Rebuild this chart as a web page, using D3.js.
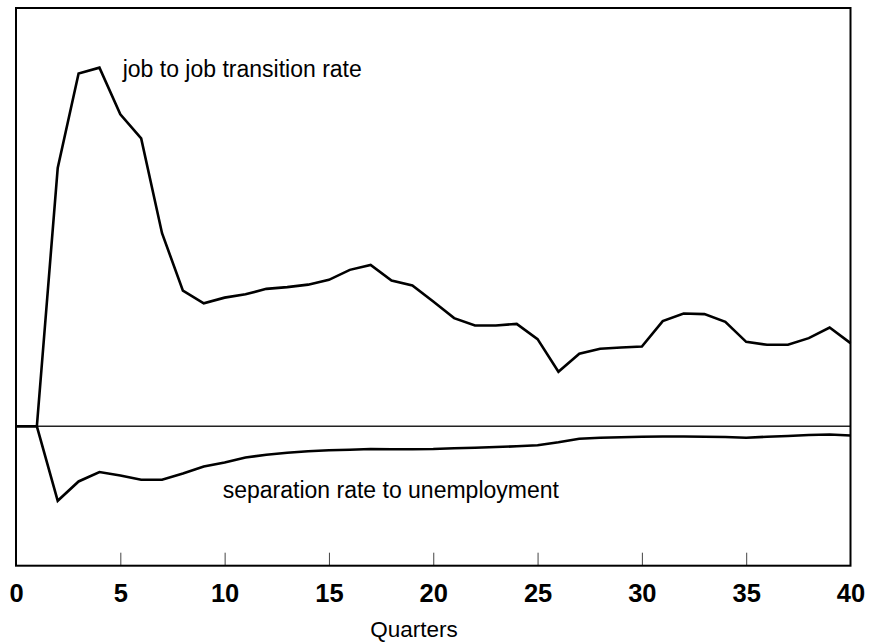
<!DOCTYPE html>
<html>
<head>
<meta charset="utf-8">
<script src="https://cdn.jsdelivr.net/npm/d3@7"></script>
<style>
  html, body { margin: 0; padding: 0; background: #fff; }
  svg { display: block; font-family: "Liberation Sans", Arial, sans-serif; }
</style>
</head>
<body>
<svg id="chart" width="870" height="644"></svg>
<script>
// Quarters 0..40
const quarters = d3.range(0, 41);
// Job to job transition rate response (arbitrary units)
const jobToJob = [0, 0, 2.585, 3.53, 3.588, 3.122, 2.88, 1.932, 1.357, 1.23,
  1.287, 1.32, 1.375, 1.392, 1.417, 1.465, 1.565, 1.615, 1.458, 1.408,
  1.248, 1.082, 1.008, 1.008, 1.025, 0.872, 0.545, 0.725, 0.775, 0.788,
  0.798, 1.052, 1.128, 1.122, 1.045, 0.845, 0.815, 0.815, 0.882, 0.988, 0.832];
// Separation rate to unemployment response
const separation = [0, 0, -0.745, -0.552, -0.458, -0.492, -0.535, -0.535, -0.472, -0.402,
  -0.362, -0.312, -0.285, -0.265, -0.25, -0.24, -0.235, -0.228, -0.23, -0.23,
  -0.228, -0.22, -0.215, -0.208, -0.2, -0.19, -0.16, -0.125, -0.115, -0.11,
  -0.105, -0.102, -0.102, -0.105, -0.108, -0.115, -0.105, -0.098, -0.088, -0.083, -0.092];
const xTicks = [0, 5, 10, 15, 20, 25, 30, 35, 40];
const xDomain = [0, 40];
const yDomain = [-1.395, 4.185];
const xTitle = "Quarters";
const jobLabel = "job to job transition rate";
const sepLabel = "separation rate to unemployment";

(function () {
const svg = d3.select("#chart");
const mLeft = 16, mRight = 850.5, mTop = 8, mBottom = 565.7;

const x = d3.scaleLinear().domain(xDomain).range([mLeft, mRight]);
const y = d3.scaleLinear().domain(yDomain).range([mBottom, mTop]);

// axis ticks (inward) and labels
const axis = d3.axisBottom(x)
  .tickValues(xTicks)
  .tickFormat(d3.format("d"))
  .tickSizeInner(-13)
  .tickSizeOuter(0)
  .tickPadding(18);
const ag = svg.append("g").attr("transform", `translate(0,${mBottom})`).call(axis);
ag.select(".domain").remove();
ag.selectAll(".tick line").attr("stroke", "#444").attr("stroke-width", 1)
  .filter(d => d === 0 || d === 40).remove();
ag.selectAll(".tick text")
  .attr("fill", "#000")
  .attr("font-size", 25.5)
  .attr("font-weight", "bold")
  .attr("font-family", "'Liberation Sans', Arial, sans-serif");

// zero line
svg.append("line")
  .attr("x1", mLeft).attr("x2", mRight)
  .attr("y1", y(0)).attr("y2", y(0))
  .attr("stroke", "#222").attr("stroke-width", 1.6);

const line = d3.line().x((d, i) => x(quarters[i])).y(d => y(d));

svg.append("path").datum(jobToJob)
  .attr("d", line).attr("fill", "none")
  .attr("stroke", "#000").attr("stroke-width", 2.6)
  .attr("stroke-linejoin", "miter");
svg.append("path").datum(separation)
  .attr("d", line).attr("fill", "none")
  .attr("stroke", "#000").attr("stroke-width", 2.6)
  .attr("stroke-linejoin", "miter");

// frame
svg.append("rect")
  .attr("x", mLeft).attr("y", mTop)
  .attr("width", mRight - mLeft).attr("height", mBottom - mTop)
  .attr("fill", "none").attr("stroke", "#000").attr("stroke-width", 2);

// labels
svg.append("text").attr("x", 122.7).attr("y", 77)
  .attr("font-size", 23).attr("fill", "#000").text(jobLabel);
svg.append("text").attr("x", 222.7).attr("y", 498)
  .attr("font-size", 23).attr("fill", "#000").text(sepLabel);
svg.append("text").attr("x", 414).attr("y", 636.5)
  .attr("text-anchor", "middle")
  .attr("font-size", 22.5).attr("fill", "#000").text(xTitle);
})();
</script>
</body>
</html>
